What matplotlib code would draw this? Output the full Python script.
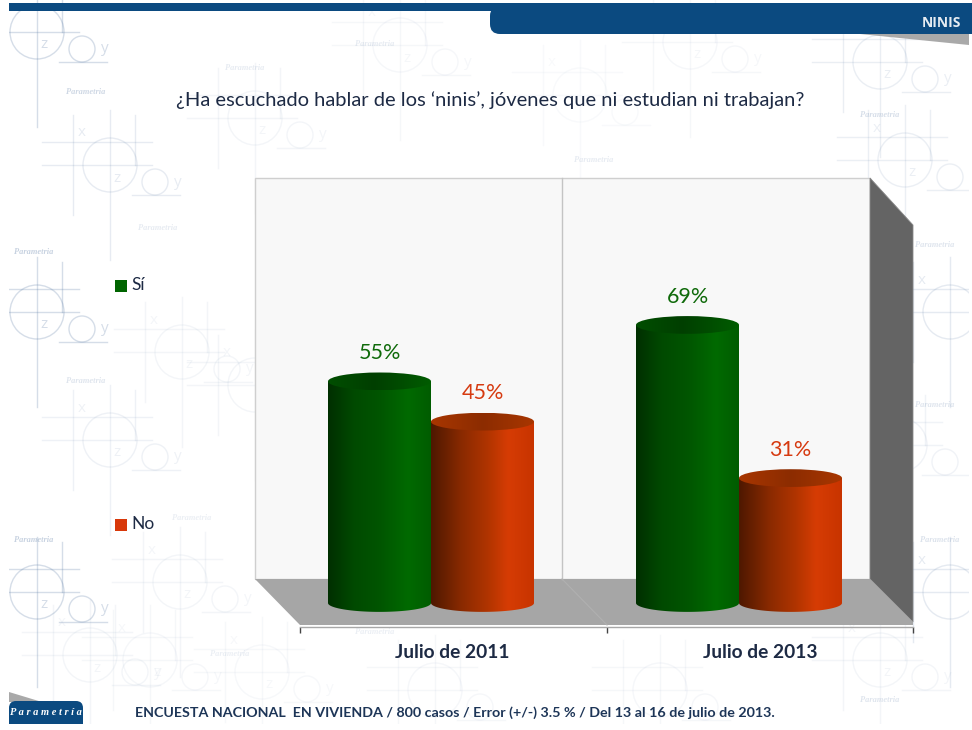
import numpy as np
import matplotlib
matplotlib.use("Agg")
import matplotlib.pyplot as plt
from matplotlib.patches import Polygon, Rectangle, Circle, FancyBboxPatch, Ellipse, PathPatch
from matplotlib.path import Path
from matplotlib.colors import LinearSegmentedColormap
from matplotlib.transforms import ScaledTranslation

categories = ["Julio de 2011", "Julio de 2013"]
si_values = [55, 69]
no_values = [45, 31]
series_names = ["Sí", "No"]
title = "¿Ha escuchado hablar de los ‘ninis’, jóvenes que ni estudian ni trabajan?"
footer = "ENCUESTA NACIONAL  EN VIVIENDA / 800 casos / Error (+/-) 3.5 % / Del 13 al 16 de julio de 2013."

W, H = 972, 730
plt.rcParams['font.family'] = ['Lato', 'DejaVu Sans']
fig = plt.figure(figsize=(W / 100, H / 100), dpi=100, facecolor='white')

# ---------- page layer, in pixel coordinates ----------
bg = fig.add_axes([0, 0, 1, 1], zorder=0)
bg.set_xlim(0, W)
bg.set_ylim(H, 0)
bg.axis('off')

NAVY = '#0b4a80'


def free_of_text(x, y):
    """Letters of the watermark stay off the page edge, title and footer bands."""
    if x < 16 or x > 955 or y < 10 or y > 720:
        return False
    if 160 < x < 820 and 85 < y < 115:
        return False
    if 125 < x < 790 and 698 < y < 726:
        return False
    if 385 < x < 830 and 636 < y < 664:
        return False
    return True


def motif(cx, cy, a):
    """Pale watermark: big circle, cross hairs, small circle and letters."""
    c = '#5f7fa8'
    kw = dict(color=c, alpha=a, lw=1.0, zorder=1)
    clip = Rectangle((9, 0), 960, 724, transform=bg.transData)
    arts = [
        Circle((cx, cy), 27, fill=False, ec=c, alpha=a, lw=1.0, zorder=1),
        Circle((cx + 45, cy + 17), 13, fill=False, ec=c, alpha=a, lw=1.0, zorder=1),
    ]
    for p in arts:
        bg.add_patch(p)
        p.set_clip_path(clip)
    segs = [
        ((cx - 68, cx + 42), (cy - 23, cy - 23)),
        ((cx - 68, cx + 42), (cy, cy)),
        ((cx + 22, cx + 70), (cy + 30, cy + 30)),
        ((cx - 37, cx - 37), (cy - 50, cy + 50)),
        ((cx, cx), (cy - 55, cy + 95)),
        ((cx + 25, cx + 25), (cy - 50, cy)),
    ]
    for xs, ys in segs:
        ln, = bg.plot(xs, ys, **kw)
        ln.set_clip_path(clip)
    for dx, dy, s in [(-28, -32, 'x'), (7, 13, 'z'), (68, 17, 'y')]:
        if free_of_text(cx + dx, cy + dy):
            bg.text(cx + dx, cy + dy, s, color=c, alpha=a, fontsize=11, ha='center',
                    va='center', zorder=1, family='Open Sans')


motifs = [(37, 32, .26), (110, 165, .15), (37, 312, .26), (182, 352, .07), (37, 592, .26),
          (110, 440, .10), (180, 582, .07), (255, 118, .07), (400, 45, .06), (255, 385, .07),
          (880, 62, .13), (905, 160, .12), (950, 312, .16), (950, 592, .16), (900, 445, .09),
          (690, 42, .06), (262, 672, .05), (435, 690, .06), (660, 690, .06), (880, 660, .07),
          (580, 95, .04), (150, 660, .06), (90, 655, .07)]
for m in motifs:
    motif(*m)
for x, y, a in [(66, 92, .3), (66, 381, .2), (14, 252, .35), (14, 540, .35),
                (138, 228, .15), (172, 518, .12), (210, 654, .12), (355, 44, .15), (225, 68, .15),
                (574, 160, .15), (860, 115, .25), (915, 245, .2), (915, 405, .2), (920, 540, .22),
                (860, 700, .2), (355, 632, .12)]:
    bg.text(x, y, "Parametria", style='italic', color='#5f7fa8', alpha=a, fontsize=6,
            family='Liberation Serif', va='center', zorder=1, fontweight='bold')

# header
bg.add_patch(Polygon([(860, 34), (969, 34), (969, 45)], fc='#a9a9a9', ec='none', zorder=2))
bg.add_patch(Rectangle((9, 3), 490, 8, fc=NAVY, ec='none', zorder=3))
bg.add_patch(FancyBboxPatch((490, 6), 60, 28, boxstyle="round,pad=0,rounding_size=10",
                            fc=NAVY, ec='none', zorder=3))
bg.add_patch(Rectangle((520, 3), 452, 31, fc=NAVY, ec='none', zorder=3))
bg.add_patch(Rectangle((490, 3), 32, 8, fc=NAVY, ec='none', zorder=3))
bg.add_patch(Rectangle((969, 34), 3, 20, fc='white', ec='none', zorder=4))
bg.text(961, 23, "NINIS", color='#e6ecf2', fontsize=10, fontweight='bold', ha='right',
        va='center', zorder=5, family='Open Sans')

bg.text(490, 100, title, color='#1d2a44', fontsize=14.5, ha='center', va='center', zorder=5)

# footer
bg.add_patch(Polygon([(9, 692), (9, 702), (42, 702)], fc='#a9a9a9', ec='none', zorder=2))
bg.add_patch(FancyBboxPatch((9, 701), 74, 40, boxstyle="round,pad=0,rounding_size=7",
                            fc=NAVY, ec='none', zorder=3))
bg.add_patch(Rectangle((9, 724), 80, 10, fc='white', ec='none', zorder=4))
bg.text(46, 712.5, "P a r a m e t r í a", color='white', style='italic', fontweight='bold',
        fontsize=7.5, ha='center', va='center', zorder=5, family='Liberation Serif')
bg.text(135, 713, footer, color='#1d3557', fontsize=10.3, fontweight='bold', ha='left',
        va='center', zorder=5)

# 3D box of the chart
bg.add_patch(Polygon([(255, 178), (870, 178), (870, 579), (255, 579)], fc='#f8f8f8',
                     ec='#cfcfcf', lw=1, zorder=2))
bg.plot([562, 562], [178, 579], color='#c4c4c4', lw=1, zorder=3)
bg.add_patch(Polygon([(870, 178), (913, 225), (913, 622), (870, 579)], fc='#646464',
                     ec='#8a8a8a', lw=.6, zorder=2))
bg.add_patch(Polygon([(255, 579), (870, 579), (913, 622), (913, 625), (300, 625)], fc='#a6a6a6',
                     ec='none', zorder=2))
bg.plot([562, 607], [579, 625], color='#b0b0b0', lw=.8, zorder=3)

# legend (positions on the page)
for ypx, col, name in [(286, '#006400', series_names[0]), (525, '#d8380a', series_names[1])]:
    bg.add_patch(Rectangle((115, ypx - 6), 12, 12, fc=col, ec='none', zorder=5))
    bg.text(131, ypx - 1, name, color='#1d2a44', fontsize=12.5, va='center', zorder=5)

# ---------- chart layer: real data axes ----------
x_px = (300, 913)
y_px = (627.2, 200)
ax = fig.add_axes([x_px[0] / W, 1 - y_px[0] / H, (x_px[1] - x_px[0]) / W,
                   (y_px[0] - y_px[1]) / H], zorder=2)
ax.patch.set_alpha(0)
ax.set_xlim((300 - 431) / 308, (913 - 431) / 308)
ax.set_ylim(-6, 100)
for s in ('top', 'left', 'right'):
    ax.spines[s].set_visible(False)
ax.spines['bottom'].set_color('#a8a8a8')
ax.spines['bottom'].set_linewidth(1)
ax.set_yticks([])
ax.set_xticks(range(len(categories)))
ax.set_xticklabels(categories, fontsize=13.8, fontweight='bold', color='#1d2a44')
ax.tick_params(axis='x', which='major', length=0, pad=12)
shift = ScaledTranslation(21 / 100, 0, fig.dpi_scale_trans)
for lab in ax.get_xticklabels():
    lab.set_transform(lab.get_transform() + shift)
ax.set_xticks([(300 - 431) / 308, (607 - 431) / 308, (913 - 431) / 308], minor=True)
ax.tick_params(axis='x', which='minor', length=4.5, color='#444444', width=1)

BW = 103 / 308
RY = 2.2
green_body = LinearSegmentedColormap.from_list('gb', [(0, '#002f00'), (.25, '#004a00'), (.5, '#005500'),
                                                      (.78, '#006a00'), (1, '#005c00')])
green_top = LinearSegmentedColormap.from_list('gt', [(0, '#004e00'), (.45, '#003f00'), (1, '#005c00')])
red_body = LinearSegmentedColormap.from_list('rb', [(0, '#4e1800'), (.3, '#8a2a00'), (.55, '#b03400'),
                                                    (.75, '#d63c04'), (1, '#c83400')])
red_top = LinearSegmentedColormap.from_list('rt', [(0, '#a83600'), (.5, '#8c2c00'), (1, '#a83600')])
grad = np.linspace(0, 1, 256)[None, :]


def cylinder(x0, v, body, top, label_color):
    x1 = x0 + BW
    xc = x0 + BW / 2
    th = np.linspace(np.pi, 2 * np.pi, 80)
    low = np.column_stack([xc + BW / 2 * np.cos(th), RY * np.sin(th)])
    verts = np.vstack([low, [[x1, v], [x0, v], low[0]]])
    im = ax.imshow(grad, cmap=body, extent=(x0, x1, -RY, v), aspect='auto', zorder=3)
    im.set_clip_path(PathPatch(Path(verts), transform=ax.transData))
    im2 = ax.imshow(grad, cmap=top, extent=(x0, x1, v - RY, v + RY), aspect='auto', zorder=4)
    im2.set_clip_path(Ellipse((xc, v), BW, 2 * RY, transform=ax.transData))
    ax.text(xc, v + 7.0, f"{v}%", color=label_color, fontsize=15.5, ha='center', va='center', zorder=5)


for i, (a, b) in enumerate(zip(si_values, no_values)):
    cylinder(i - BW, a, green_body, green_top, '#0f6a0a')
    cylinder(i, b, red_body, red_top, '#d63a10')
ax.set_xlim((300 - 431) / 308, (913 - 431) / 308)
ax.set_ylim(-6, 100)

fig.savefig('out.png', dpi=100, facecolor='white')
